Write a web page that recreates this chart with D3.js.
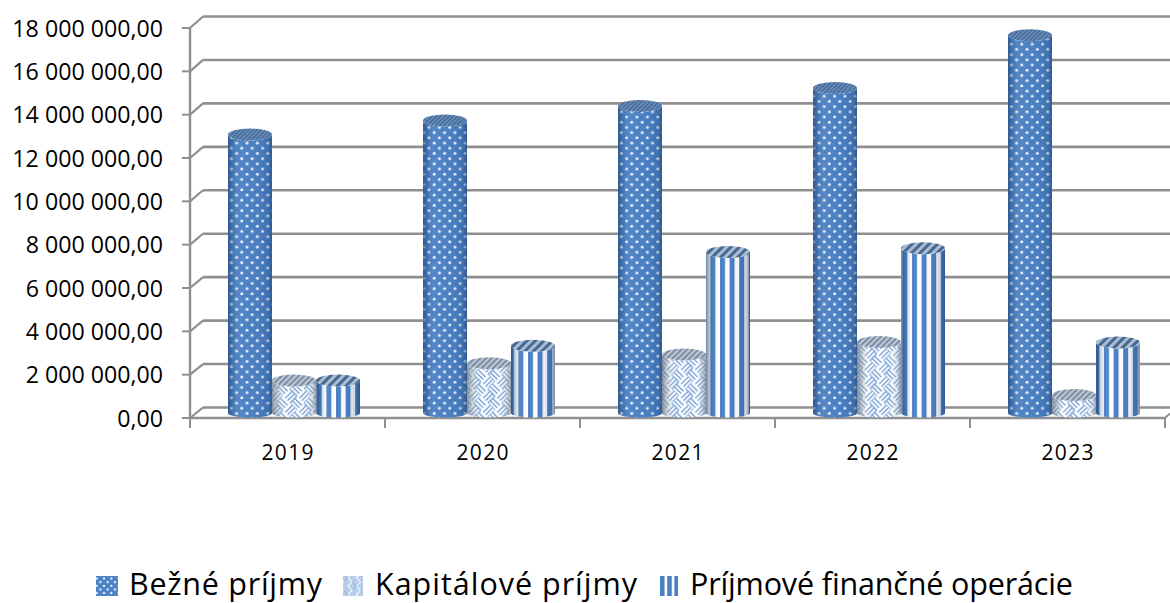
<!DOCTYPE html>
<html><head><meta charset="utf-8">
<style>html,body{margin:0;padding:0;background:#fff}svg{display:block}text{font-family:"Open Sans",sans-serif;fill:#000}</style>
<script src="https://cdn.jsdelivr.net/npm/d3@7"></script></head><body>
<svg id="c" width="1170" height="603"></svg>
<script>
const years = ["2019","2020","2021","2022","2023"];
const seriesNames = ["Bežné príjmy","Kapitálové príjmy","Príjmové finančné operácie"];
const bezne = [12850000,13500000,14170000,15000000,17440000];
const kapitalove = [1500000,2300000,2700000,3280000,830000];
const financne = [1500000,3100000,7430000,7600000,3250000];
const yTicks = [0,2000000,4000000,6000000,8000000,10000000,12000000,14000000,16000000,18000000];

const svg = d3.select("#c");
const defs = svg.append("defs");
const fmt = v => d3.format(",.2f")(v).replace(/,/g," ").replace(".",",");

const yFront = d3.scaleLinear().domain([0,18000000]).range([418,28]);
const yBack = d3.scaleLinear().domain([0,18000000]).range([407.5,16.5]);
const yBar = d3.scaleLinear().domain([0,18000000]).range([413,23]);
const xCat = d3.scaleBand().domain(years).range([190,1165]);
const xSer = d3.scaleBand().domain([0,1,2]).range([38,170]);
const backX = 203, frontX = 190;
const grid = "#8f8f8f";

const blur = defs.append("filter").attr("id","soft").attr("filterUnits","userSpaceOnUse")
  .attr("x",0).attr("y",0).attr("width",1170).attr("height",603);
blur.append("feGaussianBlur").attr("stdDeviation",0.45);

// patterns
const blue = "#4a80c4";
function dotPattern(id,size,r){
  const p = defs.append("pattern").attr("id",id).attr("patternUnits","userSpaceOnUse").attr("width",size).attr("height",size);
  p.append("rect").attr("width",size).attr("height",size).attr("fill",blue);
  [[size/4,size/4],[size*3/4,size*3/4]].forEach(d=>p.append("circle").attr("cx",d[0]).attr("cy",d[1]).attr("r",r).attr("fill","#eef5fc"));
}
dotPattern("dots",10.4,1.5); dotPattern("legDots",7.3,1.2);
function weavePattern(id,k,sw){
  const s = 20*k;
  const p = defs.append("pattern").attr("id",id).attr("patternUnits","userSpaceOnUse").attr("width",s).attr("height",s).attr("patternTransform","rotate(45)");
  p.append("rect").attr("width",s).attr("height",s).attr("fill","#ffffff");
  const h = [3.33,6.66,10], line = (x1,y1,x2,y2)=>p.append("line").attr("x1",x1*k).attr("y1",y1*k).attr("x2",x2*k).attr("y2",y2*k).attr("stroke","#6f9bd4").attr("stroke-width",sw);
  h.forEach(v=>{
    line(0,v,10,v); line(10+v,0,10+v,10);
    line(v,10,v,20); line(10,10+v,20,10+v);
  });
}
weavePattern("weave",1,1.3); weavePattern("legWeave",0.6,1);
function stripePattern(id,w,b){
  const p = defs.append("pattern").attr("id",id).attr("patternUnits","userSpaceOnUse").attr("width",w).attr("height",10);
  p.append("rect").attr("width",w).attr("height",10).attr("fill","#fff");
  p.append("rect").attr("width",b).attr("height",10).attr("fill",blue);
}
stripePattern("stripes",9.6,5);
const pl = defs.append("pattern").attr("id","legStripes").attr("patternUnits","userSpaceOnUse").attr("x",660).attr("width",7.2).attr("height",10);
pl.append("rect").attr("width",7.2).attr("height",10).attr("fill","#fff");
pl.append("rect").attr("width",4.6).attr("height",10).attr("fill",blue);
function diag(id,size,a,b){
  const p = defs.append("pattern").attr("id",id).attr("patternUnits","userSpaceOnUse").attr("width",size).attr("height",size).attr("patternTransform","rotate(45)");
  p.append("rect").attr("width",size).attr("height",size).attr("fill",a);
  p.append("rect").attr("width",size/2).attr("height",size).attr("fill",b);
}
diag("topDiag",6,"#a9bdd6","#48698f");
diag("topDots",3,"#6f93bd","#3f6695");
diag("topWeave",4,"#bcc7d3","#7b8ea3");
const g = defs.append("linearGradient").attr("id","shade");
[[0,"#1d3f6b",.6],[.1,"#1d3f6b",.22],[.3,"#fff",.04],[.72,"#1d3f6b",.04],[.92,"#1d3f6b",.26],[1,"#1d3f6b",.62]]
 .forEach(s=>g.append("stop").attr("offset",s[0]).attr("stop-color",s[1]).attr("stop-opacity",s[2]));
const gw = defs.append("linearGradient").attr("id","shadeLight");
[[0,"#6f7a86",.8],[.12,"#8a95a1",.4],[.3,"#fff",0],[.75,"#fff",0],[.93,"#8a95a1",.35],[1,"#6f7a86",.7]]
 .forEach(s=>gw.append("stop").attr("offset",s[0]).attr("stop-color",s[1]).attr("stop-opacity",s[2]));

const chart = svg.append("g").attr("filter","url(#soft)");
// back wall gridlines
yTicks.forEach(t=>{
  chart.append("line").attr("x1",backX).attr("x2",1170).attr("y1",yBack(t)).attr("y2",yBack(t)).attr("stroke",grid).attr("stroke-width",2.6);
  chart.append("line").attr("x1",frontX).attr("x2",backX).attr("y1",yFront(t)).attr("y2",yBack(t)).attr("stroke",grid).attr("stroke-width",2.2);
  chart.append("line").attr("x1",frontX-8).attr("x2",frontX).attr("y1",yFront(t)).attr("y2",yFront(t)).attr("stroke",grid).attr("stroke-width",2);
});

// floor front edge + axes
chart.append("line").attr("x1",frontX).attr("x2",1165).attr("y1",yFront(0)).attr("y2",yFront(0)).attr("stroke",grid).attr("stroke-width",2.6);
chart.append("line").attr("x1",1165).attr("x2",1170).attr("y1",yFront(0)).attr("y2",yFront(0)-4.5).attr("stroke",grid).attr("stroke-width",2);
chart.append("line").attr("x1",frontX).attr("x2",frontX).attr("y1",yFront(0)).attr("y2",yFront(18000000)).attr("stroke",grid).attr("stroke-width",2.4);
const axL = svg.append("g").attr("transform",`translate(${frontX},0)`)
  .call(d3.axisLeft(yFront).tickValues(yTicks).tickFormat(fmt).tickSize(0).tickPadding(27));
axL.select(".domain").remove();
axL.selectAll("text").attr("font-size",23.2).attr("fill","#000").attr("dy","0.35em");
const edges = years.map(y=>xCat(y)).concat([1165]);
edges.forEach(x=>chart.append("line").attr("x1",x).attr("x2",x).attr("y1",418).attr("y2",428).attr("stroke",grid).attr("stroke-width",2));
const axB = svg.append("g").attr("transform","translate(0,418)")
  .call(d3.axisBottom(xCat).tickSize(0).tickPadding(27));
axB.select(".domain").remove();
axB.selectAll("text").attr("font-size",21).attr("fill","#000").attr("textLength",52);

// cylinders
const fills = ["dots","weave","stripes"], tops = ["topDots","topWeave","topDiag"], shades = ["shade","shadeLight","shade"];
const vals = [bezne,kapitalove,financne];
years.forEach((yr,i)=>{
  vals.forEach((arr,s)=>{
    const x0 = xCat(yr)+xSer(s), w = xSer.bandwidth(), rx = w/2, ry = 6;
    const yT = yBar(arr[i]), yB = yBar(0);
    const d = `M${x0} ${yT}L${x0} ${yB}A${rx} 4.5 0 0 0 ${x0+w} ${yB}L${x0+w} ${yT}A${rx} ${ry} 0 0 1 ${x0} ${yT}Z`;
    chart.append("path").attr("d",d).attr("fill",`url(#${fills[s]})`);
    chart.append("path").attr("d",d).attr("fill",`url(#${shades[s]})`);
    chart.append("ellipse").attr("cx",x0+rx).attr("cy",yT).attr("rx",rx).attr("ry",ry).attr("fill",`url(#${tops[s]})`);
  });
});

// legend
const swatchX = [96,343,660], swatchW = [22,20,18], textX = [129,375,690], textW = [193,262,383];
const legFills = ["legDots","legWeave","legStripes"];
seriesNames.forEach((n,s)=>{
  svg.append("rect").attr("x",swatchX[s]).attr("y",576).attr("width",swatchW[s]).attr("height",20).attr("fill",`url(#${legFills[s]})`);
  svg.append("text").attr("x",textX[s]).attr("y",595).attr("font-size",30.5).attr("textLength",textW[s]).text(n);
});
</script></body></html>
